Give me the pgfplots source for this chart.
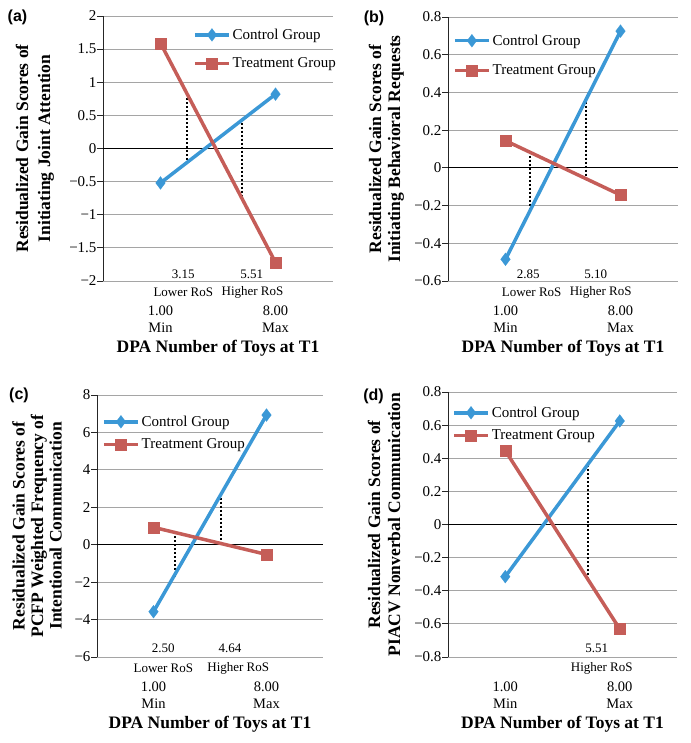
\documentclass[border=0pt]{standalone}
\usepackage{fontspec}
\setmainfont{Liberation Serif}
\newfontfamily\serif{Liberation Serif}
\newfontfamily\labelfont{Liberation Sans}
\usepackage{pgfplots}
\pgfplotsset{compat=1.18}
\definecolor{ctrl}{RGB}{59,152,214}
\definecolor{trt}{RGB}{197,93,88}
\definecolor{gridc}{RGB}{165,165,165}
\tikzset{smalllab/.style={font=\serif\fontsize{13}{15}\selectfont, anchor=center}}
\pgfplotsset{
  panel/.style={
    scale only axis, anchor=south west, clip=false,
    xmin=-2.5, xmax=11.5,
    xtick={1,8}, xticklabels={{1.00\\Min},{8.00\\Max}},
    axis lines*=left,
    x axis line style={draw=none},
    y axis line style={black!85, line width=0.8pt},
    xtick style={draw=none},
    ytick style={black!85, line width=0.8pt},
    tick align=outside, major tick length=6pt,
    ymajorgrids, grid style={gridc, line width=0.8pt},
    extra y ticks={0}, extra y tick labels={},
    extra y tick style={grid style={black, line width=0.8pt}},
    xticklabel style={align=center, font=\serif\fontsize{14.5}{17}\selectfont, anchor=center, yshift=-32pt},
    yticklabel style={font=\serif\fontsize{15}{18}\selectfont, xshift=3pt},
    xlabel={DPA Number of Toys at T1},
    xlabel style={font=\serif\bfseries\fontsize{17.5}{21}\selectfont, at={([yshift=-67pt]axis description cs:0.5,0)}, anchor=center},
    legend style={draw=none, fill=none, font=\serif\fontsize{15}{18}\selectfont, anchor=west, inner sep=0pt},
    legend cell align=left,
    legend image code/.code={\draw[mark repeat=2, mark phase=2] plot coordinates {(0pt,0pt) (17pt,0pt) (34pt,0pt)};},
  },
  ctrlplot/.style={ctrl, line width=3.5pt, mark=diamond*, mark size=6.5pt, mark options={solid, line width=0.1pt}},
  trtplot/.style={trt, line width=3.5pt, mark=square*, mark size=5.5pt, mark options={solid, line width=0.1pt}},
  dropline/.style={black, line width=2pt, dash pattern=on 2pt off 2pt, forget plot},
}
\begin{document}
\begin{tikzpicture}
\useasboundingbox (0pt,0pt) rectangle (690pt,743pt);
% ---------- (a)
\begin{axis}[panel, at={(103pt,462pt)}, width=230pt, height=265pt,
  ymin=-2, ymax=2, ytick={-2,-1.5,-1,-0.5,0,0.5,1,1.5,2},
  yticklabels={−2,−1.5,−1,−0.5,0,0.5,1,1.5,2},
  ylabel={Residualized Gain Scores of\\Initiating Joint Attention},
  ylabel style={font=\serif\bfseries\fontsize{17.5}{22}\selectfont, align=center, at={([xshift=-68pt]axis description cs:0,0.5)}, anchor=center},
  legend style={at={(axis cs:2.98,1.50)}, row sep=13pt}]
\addplot[dropline] coordinates {(2.59,0.76) (2.59,-0.17)};
\addplot[dropline] coordinates {(5.98,0.45) (5.98,-0.78)};
\addplot[ctrlplot] coordinates {(1,-0.52) (8,0.82)};
\addlegendentry{Control Group}
\addplot[trtplot] coordinates {(1,1.59) (8,-1.72)};
\addlegendentry{Treatment Group}
\node[smalllab, yshift=7pt] at (axis cs:2.39,-2) {3.15};
\node[smalllab, yshift=7pt] at (axis cs:6.55,-2) {5.51};
\node[smalllab, yshift=-11.5pt] at (axis cs:2.39,-2) {Lower RoS};
\node[smalllab, yshift=-11.5pt] at (axis cs:6.6,-2) {Higher RoS};
\end{axis}
% ---------- (b)
\begin{axis}[panel, at={(448pt,462pt)}, width=230pt, height=264pt,
  ymin=-0.6, ymax=0.8, ytick={-0.6,-0.4,-0.2,0,0.2,0.4,0.6,0.8},
  yticklabels={−0.6,−0.4,−0.2,0,0.2,0.4,0.6,0.8},
  ylabel={Residualized Gain Scores of\\Initiating Behavioral Requests},
  ylabel style={font=\serif\bfseries\fontsize{17.5}{19}\selectfont, align=center, at={([xshift=-61.5pt]axis description cs:0,0.5)}, anchor=center},
  legend style={at={(axis cs:-2.2,0.596)}, row sep=14pt}]
\addplot[dropline] coordinates {(2.49,0.086) (2.49,-0.223)};
\addplot[dropline] coordinates {(5.9,0.351) (5.9,-0.055)};
\addplot[ctrlplot] coordinates {(1,-0.485) (8,0.725)};
\addlegendentry{Control Group}
\addplot[trtplot] coordinates {(1,0.144) (8,-0.144)};
\addlegendentry{Treatment Group}
\node[smalllab, yshift=7pt] at (axis cs:2.39,-0.6) {2.85};
\node[smalllab, yshift=7pt] at (axis cs:6.49,-0.6) {5.10};
\node[smalllab, yshift=-11.5pt] at (axis cs:2.59,-0.6) {Lower RoS};
\node[smalllab, yshift=-11.5pt] at (axis cs:6.79,-0.6) {Higher RoS};
\end{axis}
% ---------- (c)
\begin{axis}[panel, at={(97pt,86pt)}, width=226pt, height=262pt,
  ymin=-6, ymax=8, ytick={-6,-4,-2,0,2,4,6,8},
  yticklabels={−6,−4,−2,0,2,4,6,8},
  ylabel={Residualized Gain Scores of\\PCFP Weighted Frequency of\\Intentional Communication},
  ylabel style={font=\serif\bfseries\fontsize{17.5}{18.5}\selectfont, align=center, at={([xshift=-60pt]axis description cs:0,0.5)}, anchor=center},
  legend style={at={(axis cs:-2.19,5.97)}, row sep=7pt}]
\addplot[dropline] coordinates {(2.33,0.66) (2.33,-1.71)};
\addplot[dropline] coordinates {(5.16,2.51) (5.16,0.11)};
\addplot[ctrlplot] coordinates {(1,-3.58) (8,6.93)};
\addlegendentry{Control Group}
\addplot[trtplot] coordinates {(1,0.93) (8,-0.52)};
\addlegendentry{Treatment Group}
\node[smalllab, yshift=8.5pt] at (axis cs:1.61,-6) {2.50};
\node[smalllab, yshift=8.5pt] at (axis cs:5.74,-6) {4.64};
\node[smalllab, yshift=-11.3pt] at (axis cs:1.61,-6) {Lower RoS};
\node[smalllab, yshift=-11.3pt] at (axis cs:6.25,-6) {Higher RoS};
\end{axis}
% ---------- (d)
\begin{axis}[panel, at={(448pt,86pt)}, width=229pt, height=265pt,
  ymin=-0.8, ymax=0.8, ytick={-0.8,-0.6,-0.4,-0.2,0,0.2,0.4,0.6,0.8},
  yticklabels={−0.8,−0.6,−0.4,−0.2,0,0.2,0.4,0.6,0.8},
  ylabel={Residualized Gain Scores of\\PIACV Nonverbal Communication},
  ylabel style={font=\serif\bfseries\fontsize{17.5}{20}\selectfont, align=center, at={([xshift=-64pt]axis description cs:0,0.5)}, anchor=center},
  legend style={at={(axis cs:-2.25,0.607)}, row sep=7pt}]
\addplot[dropline] coordinates {(6.04,0.359) (6.04,-0.325)};
\addplot[ctrlplot] coordinates {(1,-0.315) (8,0.625)};
\addlegendentry{Control Group}
\addplot[trtplot] coordinates {(1,0.446) (8,-0.631)};
\addlegendentry{Treatment Group}
\node[smalllab, yshift=8.5pt] at (axis cs:6.59,-0.8) {5.51};
\node[smalllab, yshift=-11.3pt] at (axis cs:6.9,-0.8) {Higher RoS};
\end{axis}
% panel letters
\node[font=\labelfont\bfseries\fontsize{16}{19}\selectfont] at (17.5pt,725.5pt) {(a)};
\node[font=\labelfont\bfseries\fontsize{16}{19}\selectfont] at (374pt,725pt) {(b)};
\node[font=\labelfont\bfseries\fontsize{16}{19}\selectfont] at (19pt,348pt) {(c)};
\node[font=\labelfont\bfseries\fontsize{16}{19}\selectfont] at (373.5pt,347pt) {(d)};
\end{tikzpicture}
\end{document}
